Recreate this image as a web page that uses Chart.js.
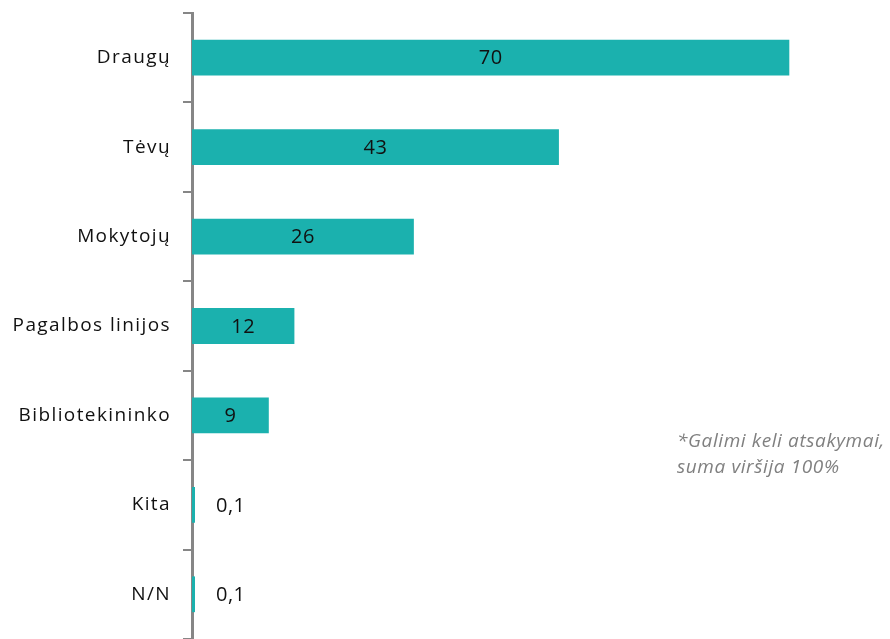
<!DOCTYPE html>
<html><head><meta charset="utf-8">
<script src="https://cdn.jsdelivr.net/npm/chart.js@4.4.0/dist/chart.umd.min.js"></script>
<style>
html,body{margin:0;padding:0;background:#fff;}
#wrap{position:relative;width:890px;height:639px;}
#note{position:absolute;left:677px;top:427px;font-family:"Open Sans",sans-serif;font-style:italic;font-size:19px;letter-spacing:0.6px;line-height:26px;color:#808080;white-space:nowrap;}
</style></head>
<body>
<div id="wrap"><canvas id="c" width="890" height="639"></canvas>
<div id="note">*Galimi keli atsakymai,<br>suma viršija 100%</div></div>
<script>
const categories = ["Draugų","Tėvų","Mokytojų","Pagalbos linijos","Bibliotekininko","Kita","N/N"];
const values = [70,43,26,12,9,0.1,0.1];
const valueLabels = ["70","43","26","12","9","0,1","0,1"];

const FONT = '"Open Sans", sans-serif';
const spacingPlugin = {
  id:'spacing',
  beforeDraw(chart){ chart.ctx.letterSpacing = '1.4px'; }
};
const labelPlugin = {
  id:'valLabels',
  afterDatasetsDraw(chart){
    const ctx = chart.ctx;
    const meta = chart.getDatasetMeta(0);
    ctx.save();
    ctx.letterSpacing = '0.5px';
    ctx.font = '20px ' + FONT;
    ctx.fillStyle = '#111';
    ctx.textBaseline = 'middle';
    meta.data.forEach((bar,i)=>{
      const w = bar.x - bar.base;
      if (w > 40) {
        ctx.textAlign = 'center';
        ctx.fillText(valueLabels[i], (bar.x + bar.base)/2, bar.y + 1);
      } else {
        ctx.textAlign = 'left';
        ctx.fillText(valueLabels[i], bar.x + 21, bar.y + 1);
      }
    });
    ctx.restore();
  }
};

new Chart(document.getElementById('c'), {
  type:'bar',
  data:{labels:categories, datasets:[{data:values, backgroundColor:'#1bb1ae', barPercentage:0.4, categoryPercentage:1, minBarLength:3}]},
  options:{
    indexAxis:'y', responsive:false, animation:false,
    layout:{padding:{top:13,bottom:0,right:0,left:0}},
    plugins:{legend:{display:false}, tooltip:{enabled:false}},
    scales:{
      x:{display:false, min:0, max:81.8},
      y:{
        afterFit(s){ s.width = 192; s.paddingTop = 0; s.paddingBottom = 0; },
        border:{display:true, color:'#868686', width:3},
        grid:{display:true, drawOnChartArea:false, drawTicks:true, tickLength:9, color:'#868686', lineWidth:2, offset:true},
        ticks:{color:'#111', font:{family:FONT, size:19}, padding:12}
      }
    }
  },
  plugins:[spacingPlugin, labelPlugin]
});
</script>
</body></html>
